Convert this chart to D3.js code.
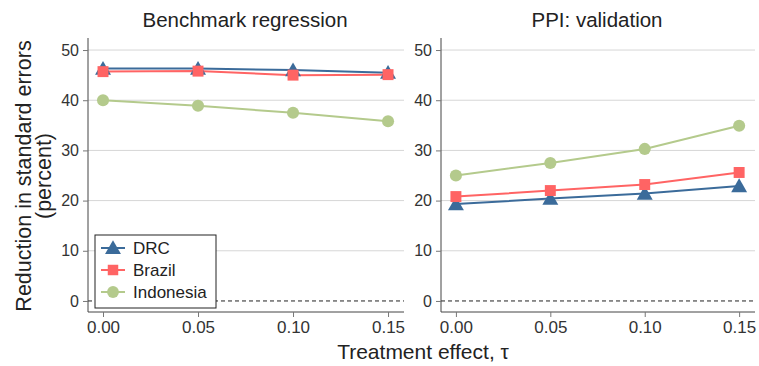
<html>
<head>
<meta charset="utf-8">
<script src="https://d3js.org/d3.v7.min.js"></script>
<style>
body { margin: 0; background: #fff; }
text { font-family: "Liberation Sans", Arial, sans-serif; }
</style>
</head>
<body>
<svg width="759" height="366"></svg>
<script>
var taus = [0, 0.05, 0.10, 0.15];
var xTicks = ["0.00", "0.05", "0.10", "0.15"];
var yTicks = [0, 10, 20, 30, 40, 50];
var panelTitles = ["Benchmark regression", "PPI: validation"];
var countries = ["DRC", "Brazil", "Indonesia"];
var colors = ["#3b6b9a", "#ff6464", "#b4ca8c"];
var shapes = [d3.symbolTriangle, d3.symbolSquare, d3.symbolCircle];

// panel 1: benchmark regression
var benchDRC = [46.3, 46.3, 46.0, 45.5];
var benchBrazil = [45.7, 45.8, 45.0, 45.1];
var benchIndonesia = [40.0, 38.9, 37.5, 35.8];
// panel 2: PPI validation
var ppiDRC = [19.3, 20.4, 21.4, 22.9];
var ppiBrazil = [20.8, 22.0, 23.2, 25.6];
var ppiIndonesia = [25.0, 27.5, 30.3, 34.9];

var panelData = [
  [benchDRC, benchBrazil, benchIndonesia],
  [ppiDRC, ppiBrazil, ppiIndonesia]
];

var svg = d3.select("svg");
var plotTop = 38, plotBottom = 312;
var panels = [{x0: 88, x1: 404}, {x0: 441, x1: 755}];

var y = d3.scaleLinear().domain([-2.2, 52.4]).range([plotBottom, plotTop]);

panels.forEach(function(p, pi) {
  var x = d3.scaleLinear().domain([-0.0079, 0.1584]).range([p.x0, p.x1]);
  var g = svg.append("g");

  // grid
  g.selectAll(".grid").data(yTicks.filter(d => d > 0)).enter()
    .append("line")
    .attr("x1", p.x0).attr("x2", p.x1)
    .attr("y1", d => y(d)).attr("y2", d => y(d))
    .attr("stroke", "#d6d6d6").attr("stroke-width", 1);

  // zero dashed line
  g.append("line")
    .attr("x1", p.x0).attr("x2", p.x1)
    .attr("y1", y(0)).attr("y2", y(0))
    .attr("stroke", "#222").attr("stroke-width", 1)
    .attr("stroke-dasharray", "4,3");

  // axes
  var ya = g.append("g").attr("transform", `translate(${p.x0},0)`)
    .call(d3.axisLeft(y).tickValues(yTicks).tickSize(5).tickPadding(4));
  ya.select(".domain").attr("d", `M0,${plotTop}V${plotBottom}`).attr("stroke", "#444");
  ya.selectAll(".tick line").attr("stroke", "#777");
  ya.selectAll(".tick text").attr("font-size", 16).attr("fill", "#333")
    .style("font-family", "Liberation Sans, Arial, sans-serif");

  var xa = g.append("g").attr("transform", `translate(0,${plotBottom})`)
    .call(d3.axisBottom(x).tickValues(taus).tickFormat((d, i) => xTicks[i]).tickSize(5).tickPadding(4));
  xa.select(".domain").attr("d", `M${p.x0},0H${p.x1}`).attr("stroke", "#444");
  xa.selectAll(".tick line").attr("stroke", "#777");
  xa.selectAll(".tick text").attr("font-size", 17).attr("fill", "#333")
    .style("font-family", "Liberation Sans, Arial, sans-serif");

  // title
  g.append("text")
    .attr("x", (p.x0 + p.x1) / 2 - 1).attr("y", 27)
    .attr("text-anchor", "middle").attr("font-size", 20.5).attr("fill", "#222")
    .text(panelTitles[pi]);

  // series
  var line = d3.line().x((d, i) => x(taus[i])).y(d => y(d));
  panelData[pi].forEach(function(vals, si) {
    g.append("path").datum(vals)
      .attr("d", line).attr("fill", "none")
      .attr("stroke", colors[si]).attr("stroke-width", 2);
  });
  panelData[pi].forEach(function(vals, si) {
    var sz = si === 0 ? 110 : (si === 1 ? 120 : 115);
    g.selectAll(".m" + si).data(vals).enter()
      .append("path")
      .attr("d", d3.symbol().type(shapes[si]).size(sz))
      .attr("transform", (d, i) => `translate(${x(taus[i])},${y(d) + (si === 0 ? 1.5 : 0)})`)
      .attr("fill", colors[si]);
  });
});

// legend
var lg = svg.append("g").attr("transform", "translate(95,235)");
lg.append("rect").attr("width", 121).attr("height", 73)
  .attr("fill", "#fff").attr("stroke", "#222").attr("stroke-width", 1);
var items = lg.selectAll(".item").data(countries).enter()
  .append("g").attr("transform", (d, i) => `translate(0,${13 + i * 22})`);
items.append("line").attr("x1", 6).attr("x2", 30).attr("y1", 0).attr("y2", 0)
  .attr("stroke", (d, i) => colors[i]).attr("stroke-width", 2);
items.append("path")
  .attr("d", (d, i) => d3.symbol().type(shapes[i]).size(110)())
  .attr("transform", (d, i) => `translate(18,${i === 0 ? 1.5 : 0})`)
  .attr("fill", (d, i) => colors[i]);
items.append("text").attr("x", 38).attr("y", 0).attr("dy", "0.35em")
  .attr("font-size", 17).attr("fill", "#222").text(d => d);

// axis labels
svg.append("text")
  .attr("transform", "translate(31,176) rotate(-90)")
  .attr("text-anchor", "middle").attr("font-size", 21.5).attr("fill", "#222")
  .text("Reduction in standard errors");
svg.append("text")
  .attr("transform", "translate(51,176) rotate(-90)")
  .attr("text-anchor", "middle").attr("font-size", 21.5).attr("fill", "#222")
  .text("(percent)");
svg.append("text")
  .attr("x", 423).attr("y", 359)
  .attr("text-anchor", "middle").attr("font-size", 21).attr("fill", "#222")
  .text("Treatment effect, τ");
</script>
</body>
</html>
